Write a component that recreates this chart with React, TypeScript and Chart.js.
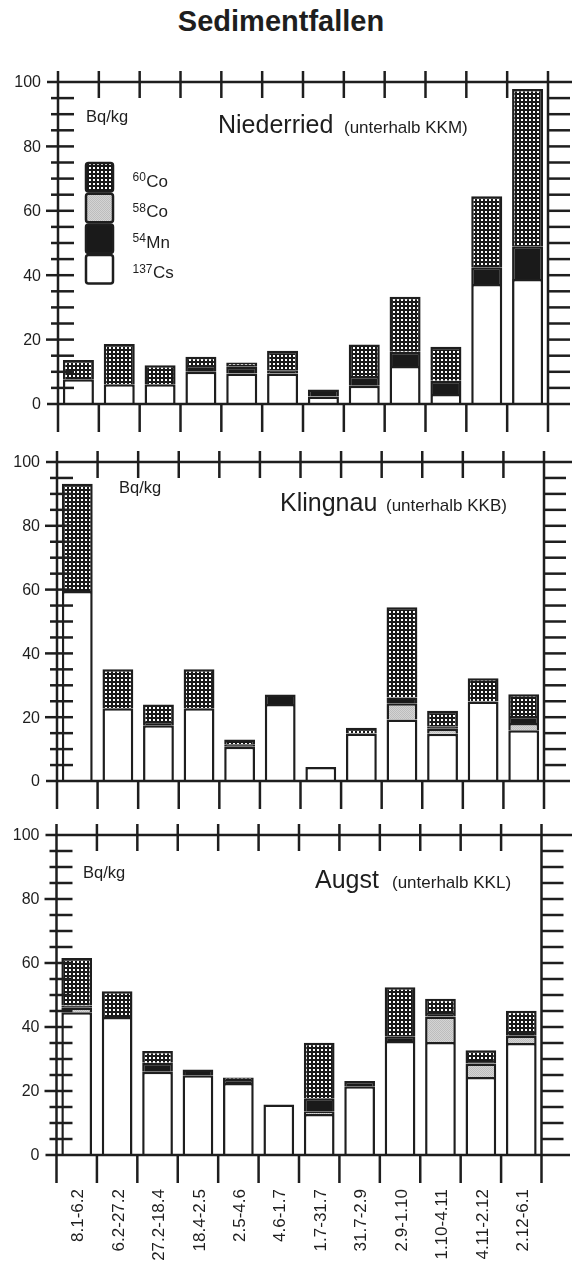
import React, { useEffect, useRef } from 'react';
import { Chart, registerables } from 'chart.js';

Chart.register(...registerables);

// ---------- data ----------
const categories = [
  '8.1-6.2', '6.2-27.2', '27.2-18.4', '18.4-2.5', '2.5-4.6', '4.6-1.7',
  '1.7-31.7', '31.7-2.9', '2.9-1.10', '1.10-4.11', '4.11-2.12', '2.12-6.1',
];
const yTickLabels = [0, 20, 40, 60, 80, 100];

const niederriedCs137 = [7.7, 6.1, 6.1, 10.0, 9.5, 9.5, 2.3, 5.7, 11.8, 3.1, 37.3, 38.8];
const niederriedCo58 = [0, 0, 0, 0, 0, 0, 0, 0, 0, 0, 0, 0];
const niederriedMn54 = [0, 0, 0, 2.1, 2.1, 1.0, 2.2, 3.0, 4.4, 4.1, 5.2, 10.2];
const niederriedCo60 = [6.0, 12.5, 5.9, 2.6, 1.3, 6.0, 0, 9.8, 17.1, 10.6, 22.0, 48.8];

const klingnauCs137 = [59.6, 22.8, 17.5, 22.8, 10.7, 24.1, 4.4, 14.9, 19.3, 14.8, 24.9, 15.9];
const klingnauCo58 = [0, 0, 0, 0, 0, 0, 0, 0, 5.1, 1.6, 0, 2.3];
const klingnauMn54 = [0, 0, 1.0, 0, 0.8, 3.0, 0, 0, 1.8, 0.6, 0, 2.2];
const klingnauCo60 = [33.6, 12.2, 5.5, 12.2, 1.5, 0, 0, 1.8, 28.3, 5.0, 7.3, 6.8];

const augstCs137 = [44.6, 43.1, 26.0, 24.9, 22.5, 15.8, 12.8, 21.5, 35.6, 35.3, 24.4, 35.0];
const augstCo58 = [1.4, 0, 0, 0, 0, 0, 0.7, 0, 0, 8.0, 4.2, 2.3];
const augstMn54 = [0.7, 0, 2.8, 1.8, 0.9, 0, 4.2, 1.6, 1.5, 1.1, 0.8, 1.1];
const augstCo60 = [14.9, 8.1, 3.7, 0, 0.8, 0, 17.4, 0, 15.3, 4.4, 3.3, 6.7];

const legendEntries = [
  { mass: '60', sym: 'Co', key: 'co60' },
  { mass: '58', sym: 'Co', key: 'co58' },
  { mass: '54', sym: 'Mn', key: 'mn54' },
  { mass: '137', sym: 'Cs', key: 'cs137' },
];

// ---------- styling / layout ----------
const INK = '#1e1e1e';
const FONT = '"Liberation Sans", Arial, Helvetica, sans-serif';

const panels = [
  {
    id: 'niederried', name: 'Niederried', suffix: '(unterhalb KKM)',
    cs137: niederriedCs137, co58: niederriedCo58, mn54: niederriedMn54, co60: niederriedCo60,
    canvasTop: 50, canvasH: 392, pad: { left: 58, right: 26, top: 32, bottom: 38 },
    unitX: 86, unitY: 122, nameX: 218, suffixX: 344, nameY: 133,
    legend: true, xLabels: false,
  },
  {
    id: 'klingnau', name: 'Klingnau', suffix: '(unterhalb KKB)',
    cs137: klingnauCs137, co58: klingnauCo58, mn54: klingnauMn54, co60: klingnauCo60,
    canvasTop: 442, canvasH: 370, pad: { left: 57, right: 30, top: 20, bottom: 31 },
    unitX: 119, unitY: 493, nameX: 280, suffixX: 386, nameY: 511,
    legend: false, xLabels: false,
  },
  {
    id: 'augst', name: 'Augst', suffix: '(unterhalb KKL)',
    cs137: augstCs137, co58: augstCo58, mn54: augstMn54, co60: augstCo60,
    canvasTop: 812, canvasH: 453, pad: { left: 56.5, right: 32.5, top: 23, bottom: 110 },
    unitX: 83, unitY: 878, nameX: 315, suffixX: 392, nameY: 888,
    legend: false, xLabels: true,
  },
];

function makePatterns(ctx: CanvasRenderingContext2D) {
  const d = document.createElement('canvas');
  d.width = 4; d.height = 4;
  const g = d.getContext('2d')!;
  g.fillStyle = '#1a1a1a';
  g.fillRect(0, 0, 4, 4);
  g.fillStyle = '#ffffff';
  g.fillRect(1, 1, 2, 2);
  const s = document.createElement('canvas');
  s.width = 2; s.height = 2;
  const h = s.getContext('2d')!;
  h.fillStyle = '#d4d4d4';
  h.fillRect(0, 0, 2, 2);
  h.fillStyle = '#bdbdbd';
  h.fillRect(0, 0, 1, 1);
  h.fillRect(1, 1, 1, 1);
  return {
    co60: ctx.createPattern(d, 'repeat') as CanvasPattern,
    co58: ctx.createPattern(s, 'repeat') as CanvasPattern,
    mn54: '#1a1a1a',
    cs137: '#ffffff',
  } as Record<string, any>;
}

function drawFrame(chart: any, p: any, pats: Record<string, any>) {
  const ctx: CanvasRenderingContext2D = chart.ctx;
  const { left, right } = chart.chartArea;
  const xs = chart.scales.x;
  const ys = chart.scales.y;
  const oy = p.canvasTop;
  const n = categories.length;
  const yTop = ys.getPixelForValue(100);
  const yZero = ys.getPixelForValue(0);
  ctx.save();
  ctx.strokeStyle = INK;
  ctx.fillStyle = INK;
  ctx.lineWidth = 2.5;
  const line = (x1: number, y1: number, x2: number, y2: number) => {
    ctx.beginPath();
    ctx.moveTo(x1, y1);
    ctx.lineTo(x2, y2);
    ctx.stroke();
  };
  line(left - 11, yTop, chart.width - 2, yTop);
  line(left - 11, yZero, chart.width - 4, yZero);
  for (let i = 0; i <= n; i++) {
    const bx = i === 0 ? left : i === n ? right
      : (xs.getPixelForValue(i - 1) + xs.getPixelForValue(i)) / 2;
    if (i === 0 || i === n) {
      line(bx, yTop - 11, bx, yZero + 28);
    } else {
      line(bx, yTop - 11, bx, yTop + 16);
      line(bx, yZero, bx, yZero + 28);
    }
  }
  for (let v = 5; v < 100; v += 5) {
    const ty = ys.getPixelForValue(v);
    const major = v % 20 === 0;
    line(left - (major ? 12 : 7), ty, left + 16, ty);
    line(right, ty, right + 22, ty);
  }
  ctx.font = `16px ${FONT}`;
  ctx.textAlign = 'right';
  ctx.textBaseline = 'middle';
  yTickLabels.forEach((v) => ctx.fillText(String(v), left - 17, ys.getPixelForValue(v) + 1));

  ctx.textAlign = 'left';
  ctx.textBaseline = 'alphabetic';
  ctx.font = `16.5px ${FONT}`;
  ctx.fillText('Bq/kg', p.unitX, p.unitY - oy);
  ctx.font = `25px ${FONT}`;
  ctx.fillText(p.name, p.nameX, p.nameY - oy);
  ctx.font = `17px ${FONT}`;
  ctx.fillText(p.suffix, p.suffixX, p.nameY - oy);

  if (p.legend) {
    legendEntries.forEach((e, i) => {
      const bx = 86;
      const by = 163 + i * 30.7 - oy;
      ctx.fillStyle = pats[e.key];
      ctx.beginPath();
      (ctx as any).roundRect(bx, by, 27, 28.5, 2.5);
      ctx.fill();
      ctx.lineWidth = 2.5;
      ctx.strokeStyle = INK;
      ctx.stroke();
      ctx.fillStyle = INK;
      const base = 186.5 + i * 30.6 - oy;
      ctx.font = `12px ${FONT}`;
      ctx.fillText(e.mass, 132.5, base - 5.5);
      const w = ctx.measureText(e.mass).width;
      ctx.font = `17px ${FONT}`;
      ctx.fillText(e.sym, 132.5 + w + 0.5, base);
    });
  }

  if (p.xLabels) {
    ctx.fillStyle = INK;
    ctx.font = `17px ${FONT}`;
    ctx.textAlign = 'right';
    ctx.textBaseline = 'middle';
    categories.forEach((c, i) => {
      ctx.save();
      ctx.translate(xs.getPixelForValue(i) + 2, 1189 - oy);
      ctx.rotate(-Math.PI / 2);
      ctx.fillText(c, 0, 0);
      ctx.restore();
    });
  }
  ctx.restore();
}

const nz = (arr: number[]) => arr.map((v) => (v > 0 ? v : null));

function Panel({ p }: { p: any }) {
  const ref = useRef<HTMLCanvasElement | null>(null);
  useEffect(() => {
    const canvas = ref.current!;
    const ctx = canvas.getContext('2d')!;
    const pats = makePatterns(ctx);
    const common = {
      borderColor: INK,
      borderWidth: 2.5,
      borderSkipped: 'start',
      barPercentage: 0.76,
      categoryPercentage: 1,
    };
    const chart = new Chart(canvas, {
      type: 'bar',
      data: {
        labels: categories,
        datasets: [
          { label: '137Cs', data: nz(p.cs137), backgroundColor: pats.cs137, ...common },
          { label: '58Co', data: nz(p.co58), backgroundColor: pats.co58, ...common },
          { label: '54Mn', data: nz(p.mn54), backgroundColor: pats.mn54, ...common },
          { label: '60Co', data: nz(p.co60), backgroundColor: pats.co60, ...common },
        ],
      } as any,
      options: {
        responsive: false,
        animation: false,
        devicePixelRatio: 1,
        layout: { padding: p.pad },
        scales: {
          x: { display: false, stacked: true },
          y: { display: false, stacked: true, min: 0, max: 100 },
        },
        plugins: { legend: { display: false }, tooltip: { enabled: false } },
      } as any,
      plugins: [{ id: 'frame', afterDraw: (c: any) => drawFrame(c, p, pats) }],
    });
    return () => chart.destroy();
  }, [p]);
  return (
    <canvas
      ref={ref}
      width={574}
      height={p.canvasH}
      style={{ position: 'absolute', left: 0, top: p.canvasTop, width: 574, height: p.canvasH }}
    />
  );
}

export default function App() {
  return (
    <div style={{ position: 'absolute', left: 0, top: 0, width: 574, height: 1265, background: '#fff', overflow: 'hidden' }}>
      <div
        style={{
          position: 'absolute', left: 0, top: 7, width: 562, textAlign: 'center',
          font: `bold 29px ${FONT}`, lineHeight: '29px', color: INK,
        }}
      >
        Sedimentfallen
      </div>
      {panels.map((p) => (
        <Panel key={p.id} p={p} />
      ))}
    </div>
  );
}
